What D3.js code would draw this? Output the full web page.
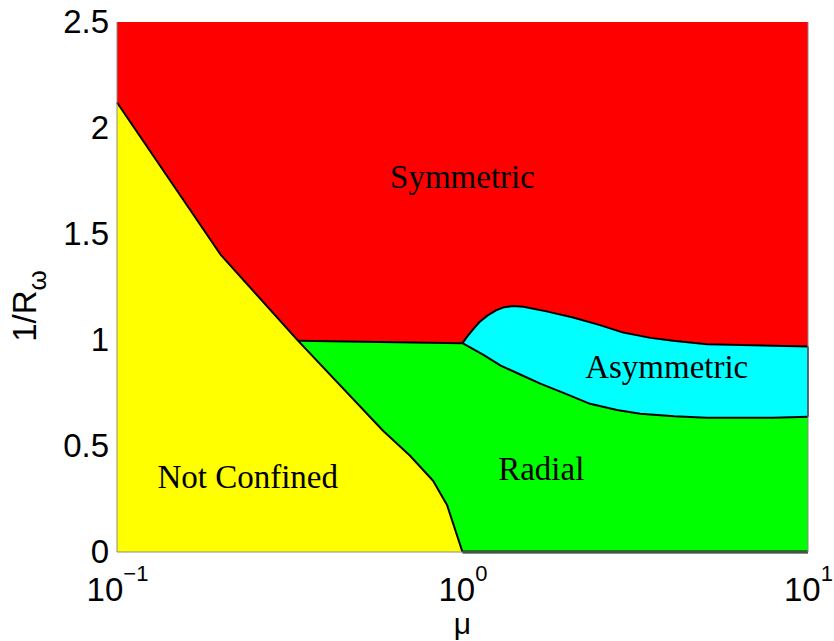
<!DOCTYPE html>
<html>
<head>
<meta charset="utf-8" />
<title>Phase diagram</title>
<style>
  body { margin: 0; background: white; }
  .tick text { font-family: "Liberation Sans", Arial, sans-serif; }
  .region-label { font-family: "Liberation Serif", "Times New Roman", serif; font-size: 33px; fill: black; }
</style>
</head>
<body>
<script src="https://d3js.org/d3.v7.min.js"></script>
<script>
var width = 834, height = 641;
var margin = {left: 117, right: 26, top: 22, bottom: 90};

// axis ticks
var muTicks = [0.1, 1, 10];
var muTickExp = ["\u22121", "0", "1"];
var yTicks = [0, 0.5, 1, 1.5, 2, 2.5];
var yTickLabels = ["0", "0.5", "1", "1.5", "2", "2.5"];

// phase boundaries [mu, 1/R_omega]
var notConfinedEdge = [[0.1, 2.12], [0.2, 1.40], [0.334, 0.997]];
var radialLeftEdge = [[0.334, 0.997], [0.589, 0.572], [0.705, 0.454], [0.822, 0.336], [0.902, 0.222], [1.0, 0]];
var radialTopEdge = [[0.334, 0.997], [1.0, 0.985]];
var asymUpper = [[1.0, 0.985], [1.03, 1.015], [1.07, 1.048], [1.12, 1.085], [1.18, 1.115], [1.25, 1.140], [1.32, 1.155], [1.40, 1.160],
                 [1.50, 1.157], [1.75, 1.135], [2.09, 1.106], [2.50, 1.070], [2.92, 1.035], [3.50, 1.010], [4.07, 0.997], [5.10, 0.980], [10, 0.969]];
var asymLower = [[1.0, 0.985], [1.15, 0.93], [1.29, 0.879], [1.48, 0.835], [1.68, 0.794], [2.0, 0.745], [2.34, 0.699], [2.8, 0.670],
                 [3.27, 0.652], [4.1, 0.640], [5.10, 0.633], [7.93, 0.633], [10, 0.638]];
var radialFloor = [[1.0, 0], [10, 0]];

// region labels [text, mu, y]
var labels = [
  ["Symmetric", 1.0, 1.715],
  ["Asymmetric", 3.9, 0.82],
  ["Not Confined", 0.239, 0.30],
  ["Radial", 1.69, 0.34]
];

var x = d3.scaleLog().domain([0.1, 10]).range([margin.left, width - margin.right]);
var y = d3.scaleLinear().domain([0, 2.5]).range([height - margin.bottom + 1, margin.top]);

var svg = d3.select("body").append("svg")
    .attr("width", width)
    .attr("height", height);

var line = d3.line()
    .x(function(d) { return x(d[0]); })
    .y(function(d) { return y(d[1]); });

// symmetric = whole background
svg.append("rect")
    .attr("x", x(0.1))
    .attr("y", y(2.5))
    .attr("width", x(10) - x(0.1))
    .attr("height", y(0) - y(2.5))
    .attr("fill", "#ff0000");

var yellow = [[0.1, 0]].concat(notConfinedEdge, radialLeftEdge.slice(1));
var green = radialTopEdge.concat(asymLower.slice(1), [[10, 0]], radialLeftEdge.slice().reverse());
var cyan = asymUpper.concat(asymLower.slice().reverse());

svg.append("path").attr("d", line(yellow) + "Z").attr("fill", "#ffff00");
svg.append("path").attr("d", line(green) + "Z").attr("fill", "#00ff00");
svg.append("path").attr("d", line(cyan) + "Z").attr("fill", "#00ffff");

// boundary lines
var edges = [notConfinedEdge, radialLeftEdge, radialTopEdge, asymUpper, asymLower];
svg.selectAll(".edge")
    .data(edges)
  .enter().append("path")
    .attr("class", "edge")
    .attr("d", line)
    .attr("fill", "none")
    .attr("stroke", "black")
    .attr("stroke-width", 2)
    .attr("stroke-linejoin", "round");

svg.append("path")
    .attr("d", line([[10, asymUpper[asymUpper.length - 1][1]], [10, asymLower[asymLower.length - 1][1]]]))
    .attr("stroke", "#000040")
    .attr("stroke-width", 1.5);

svg.append("path")
    .attr("d", line(radialFloor))
    .attr("stroke", "#0a1a0a")
    .attr("stroke-width", 3);

// axis box (left, bottom, right)
svg.append("path")
    .attr("d", "M" + x(0.1) + "," + y(2.5) + "V" + y(0) + "H" + x(10) + "V" + y(2.5))
    .attr("fill", "none")
    .attr("stroke", "#8a8a8a")
    .attr("stroke-width", 1);

// y axis
var yAxis = svg.append("g")
    .attr("transform", "translate(" + x(0.1) + ",0)")
    .call(d3.axisLeft(y).tickValues(yTicks).tickSize(0).tickPadding(8)
        .tickFormat(function(d, i) { return yTickLabels[i]; }));
yAxis.select(".domain").remove();
yAxis.selectAll("text")
    .attr("font-size", 33)
    .attr("fill", "black")
    .attr("dy", "0.32em");

// x axis with power-of-ten labels
var xAxis = svg.append("g")
    .attr("transform", "translate(0," + y(0) + ")")
    .call(d3.axisBottom(x).tickValues(muTicks).tickSize(0).tickFormat(""));
xAxis.select(".domain").remove();
xAxis.selectAll(".tick").each(function(d, i) {
  var t = d3.select(this).append("text")
      .attr("y", 49)
      .attr("fill", "black")
      .attr("text-anchor", "middle")
      .attr("font-size", 33);
  t.append("tspan").text("10");
  t.append("tspan")
      .attr("font-size", 22)
      .attr("dy", -20)
      .text(muTickExp[i]);
});

// axis titles
svg.append("text")
    .attr("x", x(1))
    .attr("y", 634)
    .attr("text-anchor", "middle")
    .attr("font-family", "Liberation Sans, Arial, sans-serif")
    .attr("font-size", 30)
    .text("\u03bc");

var yt = svg.append("text")
    .attr("transform", "translate(36,306) rotate(-90)")
    .attr("text-anchor", "middle")
    .attr("font-family", "Liberation Sans, Arial, sans-serif")
    .attr("font-size", 33);
yt.append("tspan").text("1/R");
yt.append("tspan").attr("font-size", 26).attr("dy", 10).text("\u03c9");

// region labels
svg.selectAll(".region-label")
    .data(labels)
  .enter().append("text")
    .attr("class", "region-label")
    .attr("x", function(d) { return x(d[1]); })
    .attr("y", function(d) { return y(d[2]); })
    .attr("text-anchor", "middle")
    .text(function(d) { return d[0]; });
</script>
</body>
</html>
